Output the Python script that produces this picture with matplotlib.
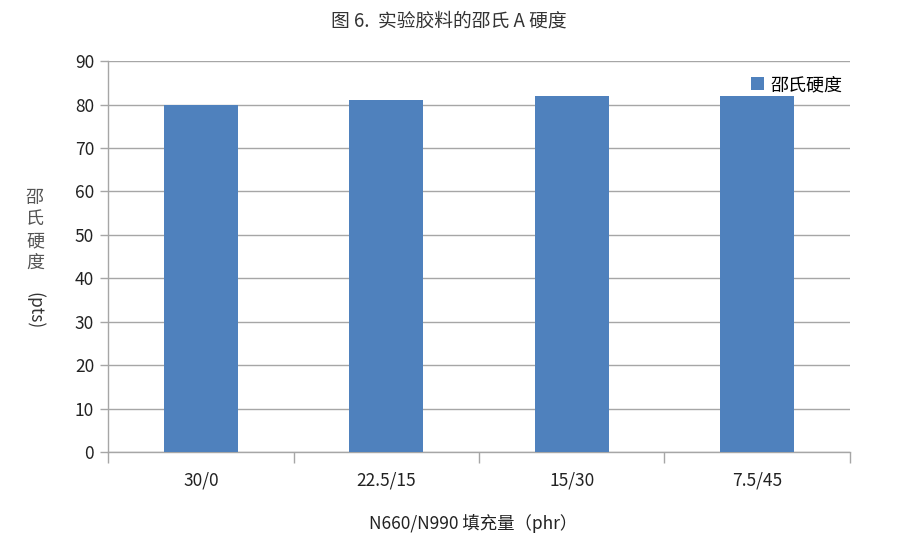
import numpy as np
import matplotlib.pyplot as plt

plt.rcParams['font.family'] = ['Noto Sans CJK SC', 'DejaVu Sans']

categories = ['30/0', '22.5/15', '15/30', '7.5/45']
hardness = [80, 81, 82, 82]
series_name = '邵氏硬度'

bar_color = '#4F81BD'
grid_color = '#A6A6A6'

fig = plt.figure(figsize=(8.98, 5.5), dpi=100)
ax = fig.add_axes([0.1203, 0.178, 0.8262, 0.711])

x = np.arange(len(categories))
ax.bar(x, hardness, width=0.4, color=bar_color, zorder=3, label=series_name)

ax.set_xlim(-0.5, len(categories) - 0.5)
ax.set_ylim(0, 90)
ax.set_yticks(np.arange(0, 91, 10))
ax.yaxis.grid(True, color=grid_color, linewidth=1.0, zorder=0)

# category labels centred, tick marks at boundaries
ax.set_xticks(x)
ax.set_xticklabels(categories, fontsize=12.5, color='#222222')
ax.tick_params(axis='x', length=0, pad=14)
ax.set_xticks(np.arange(-0.5, len(categories)), minor=True)
ax.tick_params(axis='x', which='minor', length=8, color=grid_color, width=1)
ax.tick_params(axis='y', length=6, color=grid_color, width=1, labelsize=12.5,
               labelcolor='#222222', pad=4)

for side in ['top', 'right']:
    ax.spines[side].set_visible(False)
for side in ['left', 'bottom']:
    ax.spines[side].set_color(grid_color)
    ax.spines[side].set_linewidth(1.0)

ax.legend(loc='upper right', bbox_to_anchor=(1.0, 0.98), frameon=False,
          fontsize=13, handlelength=0.7, handleheight=0.7, handletextpad=0.4,
          borderaxespad=0)

fig.text(0.5, 0.962, '图 6.  实验胶料的邵氏 A 硬度', ha='center', va='center',
         fontsize=13.5, color='#333333')
fig.text(0.527, 0.048, 'N660/N990 填充量（phr）', ha='center', va='center',
         fontsize=12.5, color='#222222')

# vertical y label: stacked characters then rotated (pts)
for i, ch in enumerate('邵氏硬度'):
    fig.text(0.039, 0.64 - i * 0.039, ch, ha='center', va='center',
             fontsize=13, color='#555555')
fig.text(0.039, 0.435, '(pts)', ha='center', va='center', rotation=270,
         fontsize=12.5, color='#333333')

fig.savefig('out.png', dpi=100)
